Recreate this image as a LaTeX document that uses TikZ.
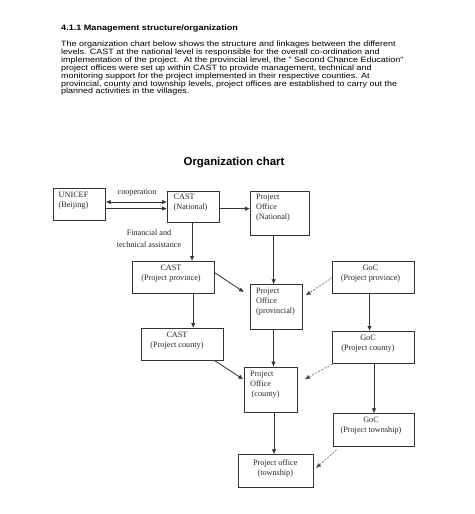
\documentclass[tikz,border=0pt]{standalone}
\usepackage{fontspec}
\setmainfont{Liberation Serif}
\newfontfamily\arialf{Liberation Sans}
\newfontfamily\arialw[FakeStretch=1.165]{Liberation Sans}
\usetikzlibrary{arrows.meta}
\begin{document}
\begin{tikzpicture}[x=1pt,y=-1pt,
  box/.style={draw=black!80, line width=0.7pt, inner sep=0pt, anchor=north west},
  lbl/.style={font=\fontsize{8.2}{10}\selectfont, inner sep=0pt, text=black!85},
  arr/.style={draw=black!80, line width=0.8pt, -{Latex[length=5pt,width=4.5pt]}},
  darr/.style={draw=black!70, line width=0.5pt, dash pattern=on 2pt off 1.5pt, -{Latex[length=5pt,width=4.5pt]}},
  biarr/.style={draw=black!80, line width=0.8pt, {Latex[length=5pt,width=4.5pt]}-{Latex[length=5pt,width=4.5pt]}}]
\useasboundingbox[fill=white] (0,0) rectangle (474,514);

% header and paragraph
\node[anchor=base west, inner sep=0pt, font=\arialw\bfseries\fontsize{7.8}{9}\selectfont] (hd) at (61,30) {4.1.1 Management structure/organization};
\node[anchor=north west, inner sep=0pt, align=left, font=\arialw\fontsize{7.7}{7.95}\selectfont] (para) at (61,40.5) {The organization chart below shows the structure and linkages between the different\\
levels. CAST at the national level is responsible for the overall co-ordination and\\
implementation of the project.\ \ At the provincial level, the " Second Chance Education"\\
project offices were set up within CAST to provide management, technical and\\
monitoring support for the project implemented in their respective counties. At\\
provincial, county and township levels, project offices are established to carry out the\\
planned activities in the villages.};

\node[inner sep=0pt, font=\arialf\bfseries\fontsize{11.4}{13}\selectfont] (title) at (234,163) {Organization chart};

% boxes
\node[box, minimum width=52.3pt, minimum height=31.7pt] (unicef) at (52.7,188.3) {};
\node[box, minimum width=52pt, minimum height=31.6pt] (castn) at (167,190.7) {};
\node[box, minimum width=59pt, minimum height=44.6pt] (pon) at (250,190.7) {};
\node[box, minimum width=81.7pt, minimum height=32.3pt] (castp) at (132,261) {};
\node[box, minimum width=52.3pt, minimum height=45pt] (pop) at (250,284.3) {};
\node[box, minimum width=81.7pt, minimum height=32.3pt] (gocp) at (332.3,261) {};
\node[box, minimum width=81.7pt, minimum height=32pt] (castc) at (141,328) {};
\node[box, minimum width=81.7pt, minimum height=32.3pt] (gocc) at (332.3,331) {};
\node[box, minimum width=52.7pt, minimum height=45pt] (poc) at (244,366.7) {};
\node[box, minimum width=81.3pt, minimum height=32.7pt] (goct) at (332.7,413.3) {};
\node[box, minimum width=74.4pt, minimum height=33pt] (pot) at (238.3,454.3) {};

% box texts
\node[lbl, anchor=west, align=left] (tunicef) at (58.5,201) {UNICEF\\(Beijing)};
\node[lbl, anchor=west, align=left] (tcastn) at (173.5,203) {CAST\\(National)};
\node[lbl, anchor=west, align=left] (tpon) at (256,207.7) {Project\\Office\\(National)};
\node[lbl, align=center] (tcastp) at (171,274) {CAST\\(Project province)};
\node[lbl, align=center] (tgocp) at (370.5,274) {GoC\\(Project province)};
\node[lbl, anchor=west, align=left] (tpop) at (256,302) {Project\\Office\\(provincial)};
\node[lbl, align=center] (tcastc) at (177,341) {CAST\\(Project county)};
\node[lbl, align=center] (tgocc) at (368,344) {GoC\\(Project county)};
\node[lbl, anchor=west, align=left] (tpoc) at (250,384.5) {Project\\Office\\\hspace{1.5pt}(county)};
\node[lbl, align=center] (tgoct) at (371,426) {GoC\\(Project township)};
\node[lbl, align=center] (tpot) at (275.3,468.3) {Project office\\(township)};

% labels
\node[lbl] (coop) at (137,193) {cooperation};
\node[lbl, align=center] (fin) at (149,238.7) {Financial and\\[1.3pt]technical assistance};

% connectors
\draw[biarr] ([yshift=2.5pt]unicef.east) -- ([yshift=2.5pt]unicef.east -| castn.west);
\draw[arr] ([yshift=-4.1pt]unicef.east) -- ([yshift=-4.1pt]unicef.east -| castn.west);
\draw[arr] ([yshift=-1.8pt]castn.east) -- ([yshift=-1.8pt]castn.east -| pon.west);
\draw[arr] ([xshift=-1.3pt]castn.south) -- ([xshift=-1.3pt]castn.south |- castp.north);
\draw[arr] ([xshift=-6.2pt]pon.south) -- ([xshift=-6.2pt]pon.south |- pop.north);
\draw[arr] ([yshift=5pt]castp.east) -- ([xshift=-6pt,yshift=15pt]pop.west);
\draw[darr] (gocp.west) -- ([xshift=2.7pt,yshift=11.8pt]pop.east);
\draw[arr] ([xshift=20pt]castp.south) -- ([xshift=20pt]castp.south |- castc.north);
\draw[arr] ([xshift=-4pt]gocp.south) -- ([xshift=-4pt]gocp.south |- gocc.north);
\draw[arr] ([xshift=-3pt]pop.south) -- ([xshift=-3pt]pop.south |- poc.north);
\draw[arr] ([xshift=-8.7pt]castc.south east) -- ([xshift=-0.7pt,yshift=10.2pt]poc.west);
\draw[darr] (gocc.south west) -- ([xshift=7.3pt,yshift=10.2pt]poc.east);
\draw[arr] ([xshift=0.5pt]gocc.south) -- ([xshift=0.5pt]gocc.south |- goct.north);
\draw[arr] ([xshift=3.3pt]poc.south) -- ([xshift=3.3pt]poc.south |- pot.north);
\draw[darr] ([xshift=4pt,yshift=-3pt]goct.south west) -- ([xshift=2.6pt,yshift=3.1pt]pot.east);
\end{tikzpicture}
\end{document}
